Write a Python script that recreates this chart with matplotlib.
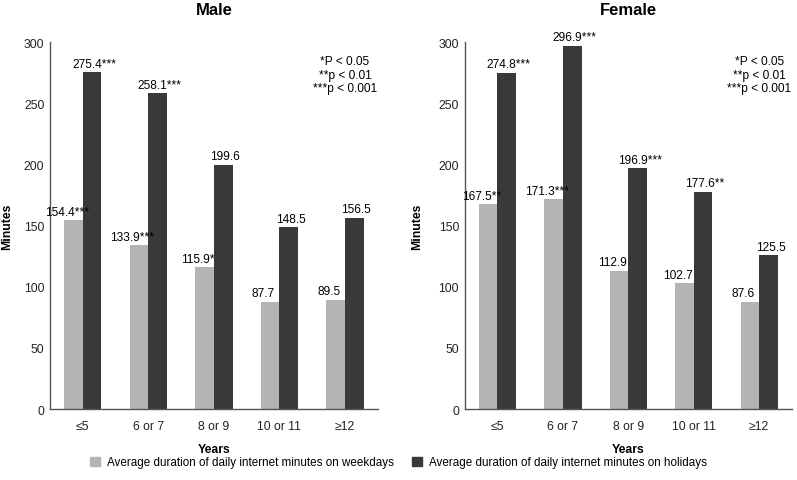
import matplotlib.pyplot as plt
from matplotlib.patches import Patch
import numpy as np

plt.rcParams["font.family"] = ["Liberation Sans", "DejaVu Sans"]

years = ["≤5", "6 or 7", "8 or 9", "10 or 11", "≥12"]

male_weekday = [154.4, 133.9, 115.9, 87.7, 89.5]
male_weekday_sig = ["***", "***", "*", "", ""]
male_holiday = [275.4, 258.1, 199.6, 148.5, 156.5]
male_holiday_sig = ["***", "***", "", "", ""]

female_weekday = [167.5, 171.3, 112.9, 102.7, 87.6]
female_weekday_sig = ["**", "***", "", "", ""]
female_holiday = [274.8, 296.9, 196.9, 177.6, 125.5]
female_holiday_sig = ["***", "***", "***", "**", ""]

light = "#b4b4b4"
dark = "#393939"
width = 0.285

fig = plt.figure(figsize=(7.97, 4.81), dpi=100)
ax_m = fig.add_axes([0.0627, 0.1476, 0.4113, 0.763])
ax_f = fig.add_axes([0.583, 0.1476, 0.4107, 0.763])

panels = [
    (ax_m, "Male", male_weekday, male_weekday_sig, male_holiday, male_holiday_sig, -0.112),
    (ax_f, "Female", female_weekday, female_weekday_sig, female_holiday, female_holiday_sig, -0.128),
]

x = np.arange(len(years))
for ax, title, wd, wd_sig, hd, hd_sig, ylab_x in panels:
    ax.bar(x - width / 2, wd, width, color=light)
    ax.bar(x + width / 2, hd, width, color=dark)
    for i in range(len(years)):
        ax.text(x[i] - width / 2 - 0.1, wd[i] + 2, f"{wd[i]:.1f}{wd_sig[i]}",
                ha="center", va="bottom", fontsize=8.6)
        ax.text(x[i] + width / 2 + 0.03, hd[i] + 2, f"{hd[i]:.1f}{hd_sig[i]}",
                ha="center", va="bottom", fontsize=8.6)
    ax.set_xlim(-0.5, 4.5)
    ax.set_ylim(0, 300)
    ax.set_yticks([0, 50, 100, 150, 200, 250, 300])
    ax.set_xticks(x)
    ax.set_xticklabels(years)
    ax.tick_params(length=0, labelsize=8.8, colors="#222222")
    ax.tick_params(axis="x", pad=8)
    ax.tick_params(axis="y", pad=4)
    for s in ["top", "right"]:
        ax.spines[s].set_visible(False)
    for s in ["left", "bottom"]:
        ax.spines[s].set_color("#555555")
        ax.spines[s].set_linewidth(1.0)
    ax.set_title(title, fontsize=12, fontweight="bold", pad=20)
    ax.set_xlabel("Years", fontsize=8.8, fontweight="bold", labelpad=8)
    ax.set_ylabel("Minutes", fontsize=8.8, fontweight="bold")
    ax.yaxis.set_label_coords(ylab_x, 0.5)
    ax.text(0.9, 0.965, "*P < 0.05\n**p < 0.01\n***p < 0.001", transform=ax.transAxes,
            ha="center", va="top", fontsize=8.6, linespacing=1.2)

handles = [
    Patch(color=light, label="Average duration of daily internet minutes on weekdays"),
    Patch(color=dark, label="Average duration of daily internet minutes on holidays"),
]
fig.legend(handles=handles, loc="center", bbox_to_anchor=(0.5, 0.037), ncol=2,
           frameon=False, fontsize=8.4, handlelength=0.8, handleheight=0.8,
           handletextpad=0.6, columnspacing=1.6)

plt.savefig("out.png", dpi=100)
